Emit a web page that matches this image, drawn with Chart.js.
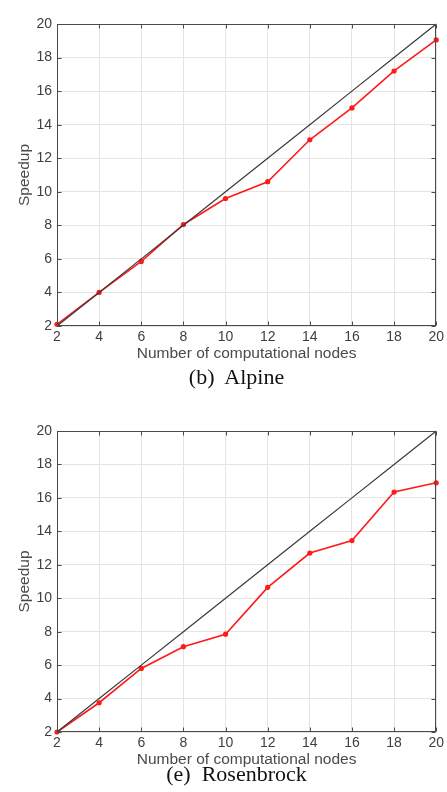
<!DOCTYPE html>
<html>
<head>
<meta charset="utf-8">
<script src="https://cdn.jsdelivr.net/npm/chart.js@4"></script>
<style>
  html, body { margin: 0; padding: 0; background: #ffffff; }
  body { width: 447px; height: 792px; position: relative; overflow: hidden; }
  canvas { position: absolute; left: 0; }
  .cap { position: absolute; left: 136.5px; width: 200px; text-align: center;
         font-family: "Liberation Serif", "Times New Roman", serif; font-size: 22px;
         line-height: 22px; color: #111; white-space: pre; }
</style>
</head>
<body>
<canvas id="c1" width="447" height="365" style="top:0px"></canvas>
<div class="cap" style="top:365.5px">(b)  Alpine</div>
<canvas id="c2" width="447" height="372" style="top:400px"></canvas>
<div class="cap" style="top:763px">(e)  Rosenbrock</div>
<script>
const nodes = [2, 4, 6, 8, 10, 12, 14, 16, 18, 20];
const idealSpeedup = [2, 4, 6, 8, 10, 12, 14, 16, 18, 20];
const alpineSpeedup = [2.1, 4.0, 5.85, 8.05, 9.6, 10.6, 13.1, 15.0, 17.2, 19.05];
const rosenbrockSpeedup = [2.0, 3.75, 5.8, 7.1, 7.85, 10.65, 12.7, 13.45, 16.35, 16.9];
const xTicks = [2, 4, 6, 8, 10, 12, 14, 16, 18, 20];
const yTicks = [2, 4, 6, 8, 10, 12, 14, 16, 18, 20];
const xTitle = 'Number of computational nodes';
const yTitle = 'Speedup';

const FONT = '"Liberation Sans", Arial, Helvetica, sans-serif';

const boxPlugin = {
  id: 'boxPlugin',
  afterDatasetsDraw(chart) {
    const ctx = chart.ctx;
    const a = chart.chartArea;
    const L = Math.round(a.left) + 0.5, R = Math.round(a.right) - 0.5;
    const T = Math.round(a.top) + 0.5, B = Math.round(a.bottom) - 0.5;
    ctx.save();
    ctx.strokeStyle = '#4a4a4a';
    ctx.lineWidth = 1;
    ctx.strokeRect(L, T, R - L, B - T);
    ctx.beginPath();
    const tl = 4;
    chart.scales.x.ticks.forEach(t => {
      const px = Math.round(chart.scales.x.getPixelForValue(t.value)) + 0.5;
      ctx.moveTo(px, B); ctx.lineTo(px, B - tl);
      ctx.moveTo(px, T); ctx.lineTo(px, T + tl);
    });
    chart.scales.y.ticks.forEach(t => {
      const py = Math.round(chart.scales.y.getPixelForValue(t.value)) + 0.5;
      ctx.moveTo(L, py); ctx.lineTo(L + tl, py);
      ctx.moveTo(R, py); ctx.lineTo(R - tl, py);
    });
    ctx.stroke();
    ctx.restore();
  }
};

function makeChart(id, values, padTop, xAxisH, titlePadBottom) {
  const toXY = arr => nodes.map((n, i) => ({ x: n, y: arr[i] }));
  return new Chart(document.getElementById(id), {
    type: 'line',
    data: {
      datasets: [
        {
          data: toXY(idealSpeedup),
          borderColor: '#3a3a3a',
          borderWidth: 1.2,
          pointRadius: 0,
          fill: false,
          tension: 0,
          clip: false
        },
        {
          data: toXY(values),
          borderColor: '#ff1a1a',
          backgroundColor: '#ff1a1a',
          borderWidth: 1.6,
          pointRadius: 2.6,
          pointBackgroundColor: '#ff1a1a',
          pointBorderColor: '#ff1a1a',
          pointBorderWidth: 0,
          fill: false,
          tension: 0,
          clip: false
        }
      ]
    },
    options: {
      responsive: false,
      animation: false,
      events: [],
      layout: { padding: { top: padTop, right: 10, left: 0, bottom: 0 } },
      plugins: { legend: { display: false }, tooltip: { enabled: false } },
      scales: {
        x: {
          type: 'linear',
          min: xTicks[0],
          max: xTicks[xTicks.length - 1],
          afterBuildTicks: s => { s.ticks = xTicks.map(v => ({ value: v })); },
          afterFit: s => { s.height = xAxisH; },
          ticks: { font: { family: FONT, size: 14 }, color: '#404040', padding: 3, maxRotation: 0, autoSkip: false },
          grid: { color: '#e4e4e4', drawTicks: false, lineWidth: 1 },
          border: { display: false },
          title: { display: true, text: xTitle, font: { family: FONT, size: 15.5 }, color: '#4a4a4a',
                   padding: { top: 0, bottom: titlePadBottom } }
        },
        y: {
          type: 'linear',
          min: yTicks[0],
          max: yTicks[yTicks.length - 1],
          afterBuildTicks: s => { s.ticks = yTicks.map(v => ({ value: v })); },
          afterFit: s => { s.width = 57; },
          ticks: { font: { family: FONT, size: 14 }, color: '#404040', padding: 5 },
          grid: { color: '#e4e4e4', drawTicks: false, lineWidth: 1 },
          border: { display: false },
          title: { display: true, text: yTitle, font: { family: FONT, size: 15.5 }, color: '#4a4a4a',
                   padding: { top: 15, bottom: 0 } }
        }
      }
    },
    plugins: [boxPlugin]
  });
}

makeChart('c1', alpineSpeedup, 24, 39, 2);
makeChart('c2', rosenbrockSpeedup, 31, 40, 3);
</script>
</body>
</html>
